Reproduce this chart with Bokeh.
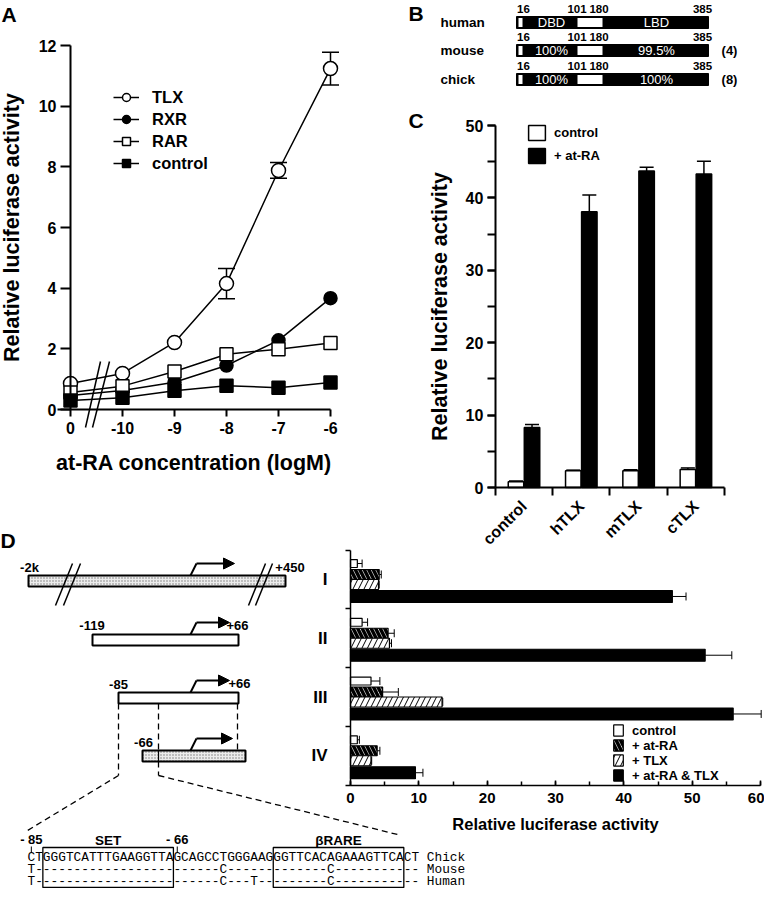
import math
from bokeh.plotting import figure
from bokeh.models import (Range1d, LinearAxis, FixedTicker, SingleIntervalTicker,
                          ColumnDataSource, Whisker, TeeHead, Legend, LegendItem,
                          Arrow, NormalHead)
from bokeh.core.properties import value
from bokeh.embed import file_html
from bokeh.resources import INLINE

# ---------------------------------------------------------------- data
# Panel A : luciferase activity vs at-RA concentration
a_conc = ["0", "-10", "-9", "-8", "-7", "-6"]
a_yticks = [0, 2, 4, 6, 8, 10, 12]
a_tlx = [0.86, 1.19, 2.21, 4.15, 7.88, 11.24]
a_tlx_err = [0.0, 0.0, 0.0, 0.50, 0.26, 0.54]
a_rxr = [0.46, 0.63, 0.90, 1.45, 2.28, 3.67]
a_rar = [0.56, 0.77, 1.25, 1.82, 1.99, 2.19]
a_control = [0.30, 0.39, 0.62, 0.78, 0.72, 0.89]

# Panel B : TLX protein homology
b_species = ["human", "mouse", "chick"]
b_refs = ["", "(4)", "(8)"]
b_residues = ["16", "101", "180", "385"]
b_dbd = ["DBD", "100%", "100%"]
b_lbd = ["LBD", "99.5%", "100%"]

# Panel C
c_groups = ["control", "hTLX", "mTLX", "cTLX"]
c_control = [0.8, 2.3, 2.3, 2.5]
c_control_err = [0.1, 0.1, 0.15, 0.2]
c_atra = [8.3, 38.1, 43.7, 43.3]
c_atra_err = [0.4, 2.3, 0.55, 1.75]

# Panel D
d_constructs = ["I", "II", "III", "IV"]
d_5prime = ["-2k", "-119", "-85", "-66"]
d_3prime = ["+450", "+66", "+66", ""]
d_control = [1.0, 1.7, 3.0, 1.0]
d_control_err = [0.7, 0.8, 1.3, 0.3]
d_atra = [4.2, 5.5, 4.7, 3.9]
d_atra_err = [0.3, 0.9, 2.3, 0.4]
d_tlx = [4.1, 5.7, 13.4, 3.0]
d_tlx_err = [0.1, 0.3, 0.1, 0.1]
d_both = [47.1, 51.9, 56.0, 9.5]
d_both_err = [2.0, 3.9, 4.1, 1.1]

# promoter sequence
seq_start = -85
seq_marks = [-85, -66]
seq_mark_labels = ["- 85", "- 66"]
seq_species = ["Chick", "Mouse", "Human"]
seq_rows = ["CTGGGTCATTTGAAGGTTAGCAGCCTGGGAAGGGTTCACAGAAAGTTCACT",
            "T" + "-" * 24 + "C" + "-" * 13 + "C" + "-" * 11,
            "T" + "-" * 24 + "C" + "---" + "T" + "-" * 9 + "C" + "-" * 11]
seq_sites = [(-83, -66), (-53, -36)]
seq_site_names = ["SET", "\u03b2RARE"]

# ---------------------------------------------------------------- canvas
W, H = 764, 888
X0, X1, YB, YT = 8, 772, 896, 8          # page pixel frame
SANS_S = "Liberation Sans"
SANS = value(SANS_S)
MONO = value("Liberation Mono")


def lin(v0, p0, v1, p1, lo, hi):
    k = (v1 - v0) / (p1 - p0)
    return Range1d(start=v0 + (lo - p0) * k, end=v0 + (hi - p0) * k)


p = figure(width=W, height=H, x_range=Range1d(X0, X1), y_range=Range1d(YB, YT),
           x_axis_type=None, y_axis_type=None, toolbar_location=None,
           output_backend="svg", min_border=0, outline_line_color=None,
           background_fill_color="white", border_fill_color="white")
p.extra_x_ranges = {
    "ax": lin(0, 78, 5, 338, X0, X1),
    "cx": lin(0, 531.5, 1, 588.8, X0, X1),
    "dx": lin(0, 358, 60, 768, X0, X1),
    "sx": lin(seq_start, 35, seq_start + 1, 42.68, X0, X1),
}
p.extra_y_ranges = {
    "ay": lin(0, 417, 12, 53, YB, YT),
    "cy": lin(0, 495, 50, 133, YB, YT),
    "dy": lin(0, 587, 1, 645.75, YB, YT),
}


def style_axis(a, tick_px, label_px, lw=2.0):
    a.axis_line_color = "black"
    a.axis_line_width = lw
    a.major_tick_line_color = "black"
    a.major_tick_line_width = lw
    a.minor_tick_line_color = "black"
    a.minor_tick_line_width = lw
    a.major_label_text_font = SANS_S
    a.major_label_text_font_style = "bold"
    a.major_label_text_font_size = f"{tick_px}px"
    a.major_label_text_color = "black"
    a.axis_label_text_font = SANS_S
    a.axis_label_text_font_style = "bold"
    a.axis_label_text_font_size = f"{label_px}px"
    a.axis_label_text_color = "black"


def txt(x, y, t, size, style="bold", align="center", color="black", font=SANS, **kw):
    p.text(x=x, y=y, text=t, text_font=font, text_font_size=f"{size}px",
           text_font_style=style, text_align=align, text_baseline="middle",
           text_color=color, **kw)


# panel letters
txt([9, 416, 416, 8], [22, 21, 128, 548], ["A", "B", "C", "D"], 21, align="left")

# ---------------------------------------------------------------- panel A
A = dict(x_range_name="ax", y_range_name="ay")
ai = list(range(len(a_conc)))
eidx = [i for i in ai if a_tlx_err[i] > 0]
src_ae = ColumnDataSource(dict(x=eidx,
                               lo=[a_tlx[i] - a_tlx_err[i] for i in eidx],
                               hi=[a_tlx[i] + a_tlx_err[i] for i in eidx]))
p.add_layout(Whisker(source=src_ae, base="x", lower="lo", upper="hi",
                     line_width=1.5, line_color="black",
                     upper_head=TeeHead(size=17, line_width=1.5),
                     lower_head=TeeHead(size=17, line_width=1.5), **A))

a_series = [("TLX", a_tlx, "circle", "white", 14),
            ("RXR", a_rxr, "circle", "black", 13),
            ("RAR", a_rar, "square", "white", 13),
            ("control", a_control, "square", "black", 13)]
a_lines = [p.line(ai, vals, line_color="black", line_width=1.5, **A)
           for _, vals, _, _, _ in a_series]
a_marks = [p.scatter(ai, vals, marker=m, size=s, fill_color=f, line_color="black",
                     line_width=1.5, **A) for _, vals, m, f, s in a_series]
legA = Legend(items=[LegendItem(label=s[0], renderers=[l, m])
                     for s, l, m in zip(a_series, a_lines, a_marks)],
              location=(113, 715), glyph_width=26, glyph_height=20, label_standoff=13,
              spacing=2, padding=0, margin=0, border_line_color=None,
              background_fill_alpha=0, label_text_font=SANS_S,
              label_text_font_style="bold", label_text_font_size="16.5px",
              label_text_color="black")
p.add_layout(legA)

ayax = LinearAxis(fixed_location=0, bounds=(0, 12), ticker=FixedTicker(ticks=a_yticks),
                  axis_label="Relative luciferase activity", **A)
style_axis(ayax, 16, 21.5)
ayax.major_tick_out = 10
ayax.major_tick_in = 0
ayax.major_label_standoff = 4
ayax.axis_label_standoff = 12
p.add_layout(ayax, "left")

axax = LinearAxis(fixed_location=0, bounds=(-0.25, 5), ticker=FixedTicker(ticks=ai),
                  major_label_overrides={i: lab for i, lab in enumerate(a_conc)},
                  axis_label="at-RA concentration (logM)", **A)
style_axis(axax, 16, 21.5)
axax.major_tick_out = 7
axax.major_tick_in = 0
axax.major_label_standoff = 5
axax.axis_label_standoff = 14
p.add_layout(axax, "below")

# axis break marks
p.segment(x0=[93, 100], y0=[435, 435], x1=[108, 117], y1=[369, 369],
          line_color="black", line_width=1.5)

# ---------------------------------------------------------------- panel B
b_rows_y = [30, 58, 87]
b_seg = [524, 530, 584, 611, 716]
for k, yy in enumerate(b_rows_y):
    p.quad(left=[b_seg[0]], right=[b_seg[-1]], top=[yy - 6], bottom=[yy + 6],
           fill_color="black", line_color="black")
    p.quad(left=[b_seg[0] + 2, b_seg[2] + 1], right=[b_seg[1], b_seg[3] - 1],
           top=[yy - 4.5] * 2, bottom=[yy + 4.5] * 2, fill_color="white", line_color=None)
    txt([531, 584.5, 606.5, 710], [yy - 13.5] * 4, b_residues, 11.5)
    txt([559, 664], [yy] * 2, [b_dbd[k], b_lbd[k]], 13, style="normal", color="white")
txt([448] * 3, b_rows_y, b_species, 13.5, align="left")
txt([737] * 3, b_rows_y, b_refs, 13)

# ---------------------------------------------------------------- panel C
C = dict(x_range_name="cx", y_range_name="cy")
cj = list(range(len(c_groups)))
xw = [j - 0.14 for j in cj]
xb = [j + 0.14 for j in cj]
vw = p.vbar(x=xw, top=c_control, width=0.27, bottom=0, fill_color="white",
            line_color="black", line_width=1.5, **C)
vb = p.vbar(x=xb, top=c_atra, width=0.27, bottom=0, fill_color="black",
            line_color="black", line_width=1.5, **C)
for xs, vals, errs in [(xw, c_control, c_control_err), (xb, c_atra, c_atra_err)]:
    s = ColumnDataSource(dict(x=xs, lo=vals, hi=[v + e for v, e in zip(vals, errs)]))
    p.add_layout(Whisker(source=s, base="x", lower="lo", upper="hi", line_width=1.5,
                         line_color="black", lower_head=None,
                         upper_head=TeeHead(size=14, line_width=1.5), **C))
legC = Legend(items=[LegendItem(label="control", renderers=[vw]),
                     LegendItem(label="+ at-RA", renderers=[vb])],
              location=(526, 723), glyph_width=21, glyph_height=19, label_standoff=7,
              spacing=4, padding=0, margin=0, border_line_color=None,
              background_fill_alpha=0, label_text_font=SANS_S,
              label_text_font_style="bold", label_text_font_size="13px",
              label_text_color="black")
p.add_layout(legC)

cyax = LinearAxis(fixed_location=-0.5, bounds=(0, 50),
                  ticker=SingleIntervalTicker(interval=10, num_minor_ticks=2),
                  axis_label="Relative luciferase activity", **C)
style_axis(cyax, 16, 21.5)
cyax.major_tick_out = 8
cyax.major_tick_in = 0
cyax.minor_tick_out = 8
cyax.minor_tick_in = 0
cyax.major_label_standoff = 4
cyax.axis_label_standoff = 11
p.add_layout(cyax, "left")

cxax = LinearAxis(fixed_location=0, bounds=(-0.5, 3.5),
                  ticker=FixedTicker(ticks=cj, minor_ticks=[j - 0.5 for j in cj] + [3.5]),
                  major_label_overrides={j: g for j, g in enumerate(c_groups)},
                  major_label_orientation=math.pi / 4, **C)
style_axis(cxax, 16, 16)
cxax.major_tick_out = 0
cxax.major_tick_in = 0
cxax.minor_tick_out = 8
cxax.minor_tick_in = 0
cxax.major_label_standoff = 8
p.add_layout(cxax, "below")

# ---------------------------------------------------------------- panel D bars
D = dict(x_range_name="dx", y_range_name="dy")
dg = list(range(len(d_constructs)))
d_specs = [
    ("control", d_control, d_control_err, -0.272, 0.136, dict(fill_color="white")),
    ("+ at-RA", d_atra, d_atra_err, -0.085, 0.17,
     dict(fill_color="white", hatch_pattern="left_diagonal_line", hatch_color="black",
          hatch_weight=3.5, hatch_scale=9)),
    ("+ TLX", d_tlx, d_tlx_err, 0.085, 0.17,
     dict(fill_color="white", hatch_pattern="right_diagonal_line", hatch_color="black",
          hatch_weight=1, hatch_scale=11)),
    ("+ at-RA & TLX", d_both, d_both_err, 0.289, 0.204, dict(fill_color="black")),
]
d_items = []
for name, vals, errs, off, hgt, fill in d_specs:
    ys = [g + off for g in dg]
    r = p.hbar(y=ys, left=0, right=vals, height=hgt, line_color="black",
               line_width=1.2, **fill, **D)
    d_items.append(LegendItem(label=name, renderers=[r]))
    s = ColumnDataSource(dict(y=ys, lo=vals, hi=[v + e for v, e in zip(vals, errs)]))
    p.add_layout(Whisker(source=s, dimension="width", base="y", lower="lo", upper="hi",
                         line_width=1, line_color="black", lower_head=None,
                         upper_head=TeeHead(size=8, line_width=1), **D))
legD = Legend(items=d_items, location=(612, 105.5), glyph_width=12, glyph_height=14,
              label_standoff=8, spacing=0, padding=0, margin=0, border_line_color=None,
              background_fill_alpha=0, label_text_font=SANS_S,
              label_text_font_style="bold", label_text_font_size="13px",
              label_text_color="black")
p.add_layout(legD)

dxax = LinearAxis(fixed_location=3.5, bounds=(0, 60),
                  ticker=SingleIntervalTicker(interval=10, num_minor_ticks=2),
                  axis_label="Relative luciferase activity", **D)
style_axis(dxax, 15, 16.5, lw=1.5)
dxax.major_tick_in = 5
dxax.major_tick_out = 0
dxax.minor_tick_in = 4
dxax.minor_tick_out = 0
dxax.major_label_standoff = 8
dxax.axis_label_standoff = 8
p.add_layout(dxax, "below")

dyax = LinearAxis(fixed_location=0, bounds=(-0.5, 3.5),
                  ticker=FixedTicker(ticks=dg, minor_ticks=[g - 0.5 for g in dg] + [3.5]),
                  major_label_overrides={g: n for g, n in enumerate(d_constructs)}, **D)
style_axis(dyax, 17, 16, lw=1.5)
dyax.major_tick_out = 0
dyax.major_tick_in = 0
dyax.minor_tick_out = 5
dyax.minor_tick_in = 0
dyax.major_label_standoff = 18
p.add_layout(dyax, "left")

# ---------------------------------------------------------------- panel D constructs
box_l = [36, 100, 126, 150]
box_r = [293, 246, 246, 253]
box_t = [583, 642, 700, 758]
box_fill = ["#ececec", "white", "white", "#ececec"]
box_hatch = ["dot", " ", " ", "dot"]
p.quad(left=box_l, right=box_r, top=box_t, bottom=[t + 11 for t in box_t],
       fill_color=box_fill, hatch_pattern=box_hatch, hatch_color="#777777",
       hatch_scale=3, hatch_weight=1, line_color="black", line_width=2)
p.segment(x0=[166], y0=[758], x1=[166], y1=[769], line_color="black", line_width=1.2)
# break marks on construct I
p.segment(x0=[63, 71, 256, 263], y0=[613] * 4, x1=[80, 88, 273, 280], y1=[571] * 4,
          line_color="black", line_width=1.5)
# transcription start arrows
rise_top = [t - 12 for t in box_t]
tips = [242, 237, 237, 240]
p.segment(x0=[198] * 4, y0=box_t, x1=[204] * 4, y1=rise_top, line_color="black", line_width=2)
p.add_layout(Arrow(end=NormalHead(size=11, fill_color="black", line_color="black"),
                   source=ColumnDataSource(dict(x0=[204] * 4, y0=rise_top, x1=tips, y1=rise_top)),
                   x_start="x0", y_start="y0", x_end="x1", y_end="y1",
                   line_width=2, line_color="black"))
txt([37, 99.5, 126, 151], [575, 633, 692, 750], d_5prime, 13)
txt([297.5, 245, 247, 0], [575, 633, 691, 0], d_3prime, 13)
# projection lines
p.segment(x0=[126, 126, 166, 166, 166, 245], y0=[711, 783, 711, 769, 783, 711],
          x1=[126, 35, 166, 166, 405, 245], y1=[783, 838, 758, 783, 842, 758],
          line_color="black", line_width=1.3, line_dash="6 4")

# ---------------------------------------------------------------- sequence
S = dict(x_range_name="sx")
seq_y = [865, 877, 889]
p.text(x=[seq_start] * 3, y=seq_y, text=[r + " " + sp for r, sp in zip(seq_rows, seq_species)],
       text_font=MONO, text_font_size="12.8px", text_align="left", text_baseline="middle",
       text_color="black", **S)
p.quad(left=[a for a, b in seq_sites], right=[b for a, b in seq_sites],
       top=[855] * 2, bottom=[895] * 2, fill_alpha=0, line_color="black", line_width=1.3, **S)
txt([m + 0.5 for m in seq_marks], [847, 847], seq_mark_labels, 13, **S)
p.segment(x0=[m + 0.5 for m in seq_marks], y0=[854] * 2, x1=[m + 0.5 for m in seq_marks],
          y1=[860] * 2, line_color="black", line_width=1, **S)
txt([(a + b) / 2 for a, b in seq_sites], [848, 848], seq_site_names, 13.5, **S)

open("out.html", "w").write(file_html(p, INLINE))
